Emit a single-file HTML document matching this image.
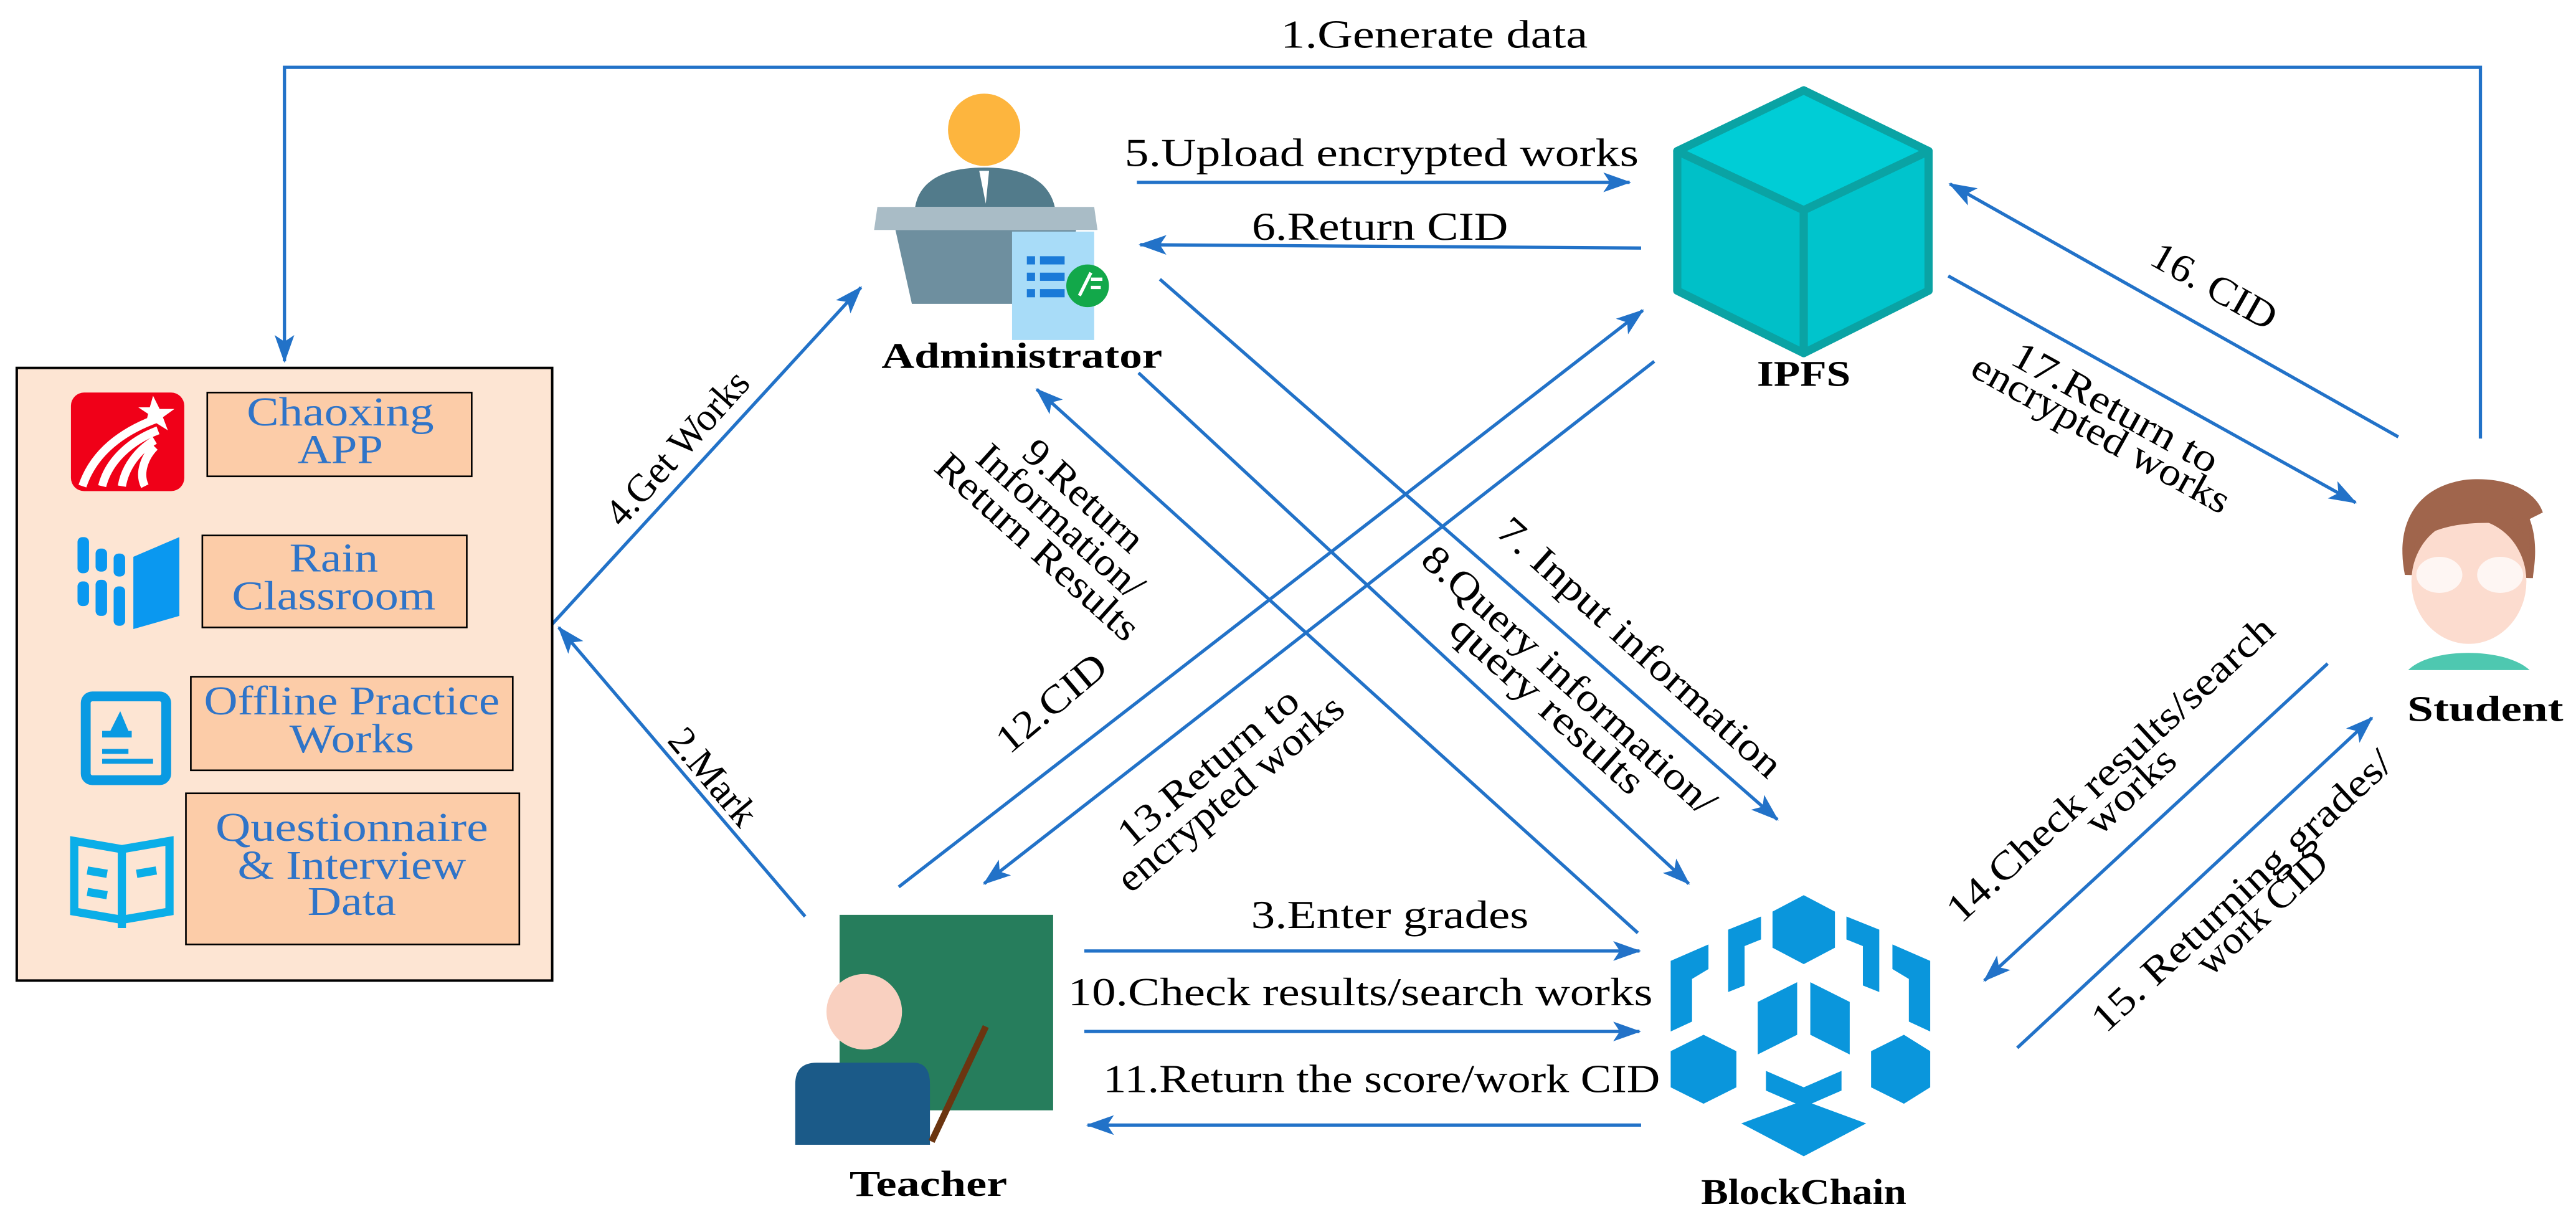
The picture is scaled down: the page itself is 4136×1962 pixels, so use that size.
<!DOCTYPE html>
<html><head><meta charset="utf-8"><style>
html,body{margin:0;padding:0;background:#fff;}
svg{display:block;}
svg text{font-family:"Liberation Serif","DejaVu Serif",serif !important;}
</style></head><body>
<svg width="4136" height="1962" viewBox="0 0 1568 744" xmlns="http://www.w3.org/2000/svg" font-family="Liberation Serif, serif">
<defs>
<marker id="ah" markerUnits="userSpaceOnUse" markerWidth="18" markerHeight="14" refX="16" refY="6" orient="auto">
<path d="M0,0 L17,6 L0,12 L4,6 Z" fill="#2272c8"/>
</marker>
</defs>
<rect width="1568" height="744" fill="#fff"/>
<g stroke="#2272c8" stroke-width="2" fill="none">
<polyline points="1510,267 1510,41 173,41 173,220" marker-end="url(#ah)"/>
<line x1="336" y1="380" x2="524" y2="175" marker-end="url(#ah)"/>
<line x1="490" y1="558" x2="340" y2="382" marker-end="url(#ah)"/>
<line x1="692" y1="111" x2="992" y2="111" marker-end="url(#ah)"/>
<line x1="999" y1="151" x2="694" y2="149" marker-end="url(#ah)"/>
<line x1="706" y1="170" x2="1082" y2="499" marker-end="url(#ah)"/>
<line x1="693" y1="227" x2="1028" y2="538" marker-end="url(#ah)"/>
<line x1="997" y1="568" x2="631" y2="237" marker-end="url(#ah)"/>
<line x1="547" y1="540" x2="1000" y2="189" marker-end="url(#ah)"/>
<line x1="1007" y1="220" x2="599" y2="538" marker-end="url(#ah)"/>
<line x1="660" y1="579" x2="998" y2="579" marker-end="url(#ah)"/>
<line x1="660" y1="628" x2="998" y2="628" marker-end="url(#ah)"/>
<line x1="999" y1="685" x2="662" y2="685" marker-end="url(#ah)"/>
<line x1="1460" y1="266" x2="1187" y2="112" marker-end="url(#ah)"/>
<line x1="1186" y1="168" x2="1434" y2="306" marker-end="url(#ah)"/>
<line x1="1417" y1="404" x2="1208" y2="597" marker-end="url(#ah)"/>
<line x1="1228" y1="638" x2="1444" y2="437" marker-end="url(#ah)"/>
</g>

<rect x="10" y="224" width="326" height="373" fill="#fde5d3" stroke="#000" stroke-width="1.5"/>
<g fill="#fccca8" stroke="#000" stroke-width="1">
<rect x="126" y="239" width="161" height="51"/>
<rect x="123" y="326" width="161" height="56"/>
<rect x="116" y="412" width="196" height="57"/>
<rect x="113" y="483" width="203" height="92"/>
</g>
<g fill="#2f74c8" font-size="25" text-anchor="middle" font-family="Liberation Serif, serif">
<text x="207" y="259" textLength="114" lengthAdjust="spacingAndGlyphs">Chaoxing</text>
<text x="207" y="282" textLength="52" lengthAdjust="spacingAndGlyphs">APP</text>
<text x="203" y="348" textLength="54" lengthAdjust="spacingAndGlyphs">Rain</text>
<text x="203" y="371" textLength="124" lengthAdjust="spacingAndGlyphs">Classroom</text>
<text x="214" y="435" textLength="180" lengthAdjust="spacingAndGlyphs">Offline Practice</text>
<text x="214" y="458" textLength="76" lengthAdjust="spacingAndGlyphs">Works</text>
<text x="214" y="512" textLength="166" lengthAdjust="spacingAndGlyphs">Questionnaire</text>
<text x="214" y="535" textLength="139" lengthAdjust="spacingAndGlyphs">&amp; Interview</text>
<text x="214" y="557" textLength="54" lengthAdjust="spacingAndGlyphs">Data</text>
</g>
<rect x="43" y="239" width="69" height="60" rx="8" fill="#f00018"/>
<g fill="none" stroke="#fff" stroke-width="5">
<path d="M50,296 C58,272 80,260 98,254"/>
<path d="M62,296 C66,280 80,268 96,262"/>
<path d="M74,296 C76,284 84,274 94,268"/>
<path d="M88,296 C84,288 88,278 94,272"/>
</g>
<polygon points="93,241 97,249 106,249 99,254 102,262 94,257 88,260 90,252 84,248 91,248" fill="#fff"/>
<g fill="#0a98f0">
<rect x="47" y="327" width="7" height="22" rx="3"/><rect x="47" y="354" width="7" height="15" rx="3"/>
<rect x="58" y="334" width="7" height="14" rx="3"/><rect x="58" y="353" width="7" height="22" rx="3"/>
<rect x="69" y="337" width="7" height="14" rx="3"/><rect x="69" y="357" width="7" height="24" rx="3"/>
<polygon points="81,339 109,327 109,375 81,383"/>
</g>
<rect x="52" y="424" width="49" height="51" rx="4" fill="none" stroke="#0a9ae2" stroke-width="6"/>
<polygon points="67,445 73,433 78,445" fill="#0a9ae2"/>
<rect x="62" y="445" width="18" height="4" fill="#0a9ae2"/>
<rect x="62" y="456" width="16" height="3" fill="#0a9ae2"/>
<rect x="62" y="462" width="31" height="3" fill="#0a9ae2"/>
<g fill="none" stroke="#0aaee8" stroke-width="5">
<path d="M45,512 L74,517 L103,512 L103,555 L74,560 L45,555 Z"/>
<line x1="74" y1="517" x2="74" y2="565"/>
<line x1="53" y1="530" x2="65" y2="532"/><line x1="53" y1="543" x2="65" y2="545"/>
<line x1="83" y1="532" x2="95" y2="530"/>
</g>

<circle cx="599" cy="79" r="22" fill="#fdb53e"/>
<path d="M557,126 C560,108 578,102 599,102 C620,102 638,108 642,126 Z" fill="#527b8b"/>
<polygon points="596,104 602,104 600,124" fill="#fff"/>
<polygon points="534,126 666,126 668,140 532,140" fill="#a9bcc6"/>
<polygon points="545,140 655,140 646,185 555,185" fill="#6e8f9f"/>
<rect x="616" y="141" width="50" height="66" fill="#a8dcf8"/>
<g fill="#1a7ad8"><rect x="625" y="156" width="5" height="5"/><rect x="633" y="156" width="15" height="5"/><rect x="625" y="166" width="5" height="5"/><rect x="633" y="166" width="15" height="5"/><rect x="625" y="176" width="5" height="5"/><rect x="633" y="176" width="15" height="5"/></g>
<circle cx="662" cy="174" r="13" fill="#12a84a"/>
<path d="M657,180 L664,166 M664,170 L671,170 M664,175 L670,175" stroke="#fff" stroke-width="2"/>

<g stroke="#0aa3a4" stroke-width="5" stroke-linejoin="round">
<polygon points="1098,55 1174,92 1098,128 1021,92" fill="#00cdd6"/>
<polygon points="1021,92 1098,128 1098,215 1021,177" fill="#00c0c8"/>
<polygon points="1174,92 1098,128 1098,215 1174,177" fill="#00c4cc"/>
</g>

<rect x="511" y="557" width="130" height="119" fill="#267d5c"/>
<circle cx="526" cy="616" r="23" fill="#f9d0c0"/>
<path d="M484,697 L484,660 Q484,647 497,647 L556,647 Q566,647 566,660 L566,697 Z" fill="#1b5a88"/>
<line x1="600" y1="625" x2="567" y2="695" stroke="#6b3510" stroke-width="4"/>

<g fill="#0a96dc">
<polygon points="1098,545 1117,555 1117,577 1098,587 1079,577 1079,555"/>
<polygon points="1052,566 1072,558 1072,572 1062,576 1062,600 1052,604"/>
<polygon points="1144,566 1124,558 1124,572 1134,576 1134,600 1144,604"/>
<polygon points="1017,585 1040,575 1040,590 1030,596 1030,622 1017,628"/>
<polygon points="1175,585 1152,575 1152,590 1162,596 1162,622 1175,628"/>
<polygon points="1070,610 1094,598 1094,630 1070,642"/>
<polygon points="1102,598 1126,610 1126,642 1102,630"/>
<polygon points="1017,640 1037,630 1057,640 1057,662 1037,672 1017,662"/>
<polygon points="1139,640 1159,630 1175,640 1175,662 1159,672 1139,662"/>
<polygon points="1075,652 1098,662 1121,652 1121,664 1098,674 1075,664"/>
<polygon points="1060,684 1098,670 1136,684 1098,704"/>
</g>

<path d="M1464,350 C1458,320 1470,296 1502,292 C1528,290 1544,300 1548,312 L1540,316 C1546,332 1542,348 1542,352 Z" fill="#a0654c"/>
<ellipse cx="1503" cy="354" rx="35" ry="38" fill="#fcdccf"/>
<path d="M1468,345 C1470,320 1480,308 1502,306 C1525,306 1538,318 1540,340 L1540,320 C1520,318 1490,315 1470,330 Z" fill="#a0654c"/>
<ellipse cx="1485" cy="350" rx="14" ry="11" fill="#fff" opacity="0.75"/>
<ellipse cx="1522" cy="350" rx="14" ry="11" fill="#fff" opacity="0.75"/>
<path d="M1466,408 C1480,394 1525,394 1540,408 Z" fill="#4ec8b0"/>

<g font-weight="bold" font-size="22" text-anchor="middle" fill="#000" font-family="Liberation Serif, serif">
<text x="622" y="224" textLength="171" lengthAdjust="spacingAndGlyphs">Administrator</text>
<text x="1098" y="235" textLength="57" lengthAdjust="spacingAndGlyphs">IPFS</text>
<text x="565" y="728" textLength="96" lengthAdjust="spacingAndGlyphs">Teacher</text>
<text x="1098" y="733" textLength="125" lengthAdjust="spacingAndGlyphs">BlockChain</text>
<text x="1513" y="439" textLength="95" lengthAdjust="spacingAndGlyphs">Student</text>
</g>

<g font-size="24" text-anchor="middle" fill="#000" font-family="Liberation Serif, serif">
<text x="873" y="29" textLength="187" lengthAdjust="spacingAndGlyphs">1.Generate data</text>
<text x="841" y="101" textLength="313" lengthAdjust="spacingAndGlyphs">5.Upload encrypted works</text>
<text x="840" y="146" textLength="156" lengthAdjust="spacingAndGlyphs">6.Return CID</text>
<text x="846" y="565" textLength="169" lengthAdjust="spacingAndGlyphs">3.Enter grades</text>
<text x="828" y="612" textLength="356" lengthAdjust="spacingAndGlyphs">10.Check results/search works</text>
<text x="841" y="665" textLength="339" lengthAdjust="spacingAndGlyphs">11.Return the score/work CID</text>
<g transform="translate(418,278) rotate(-48)"><text x="0" y="0" textLength="118" lengthAdjust="spacingAndGlyphs">4.Get Works</text></g>
<g transform="translate(428,478) rotate(50)"><text x="0" y="0" textLength="70" lengthAdjust="spacingAndGlyphs">2.Mark</text></g>
<g transform="translate(645,318) rotate(42)"><text x="0" y="-14" textLength="90" lengthAdjust="spacingAndGlyphs">9.Return</text><text x="0" y="7" textLength="128" lengthAdjust="spacingAndGlyphs">Information/</text><text x="0" y="28" textLength="158" lengthAdjust="spacingAndGlyphs">Return Results</text></g>
<g transform="translate(645,434) rotate(-40)"><text x="0" y="0" textLength="80" lengthAdjust="spacingAndGlyphs">12.CID</text></g>
<g transform="translate(743,476) rotate(-40)"><text x="0" y="-4" textLength="136" lengthAdjust="spacingAndGlyphs">13.Return to</text><text x="0" y="17" textLength="172" lengthAdjust="spacingAndGlyphs">encrypted works</text></g>
<g transform="translate(993,400) rotate(42)"><text x="0" y="0" textLength="224" lengthAdjust="spacingAndGlyphs">7. Input information</text></g>
<g transform="translate(950,420) rotate(42)"><text x="0" y="0" textLength="232" lengthAdjust="spacingAndGlyphs">8.Query information/</text><text x="0" y="20" textLength="150" lengthAdjust="spacingAndGlyphs">query results</text></g>
<g transform="translate(1344,181) rotate(29.5)"><text x="0" y="0" textLength="84" lengthAdjust="spacingAndGlyphs">16. CID</text></g>
<g transform="translate(1284,255) rotate(29)"><text x="0" y="0" textLength="140" lengthAdjust="spacingAndGlyphs">17.Return to</text><text x="0" y="18" textLength="176" lengthAdjust="spacingAndGlyphs">encrypted works</text></g>
<g transform="translate(1290,474) rotate(-42.7)"><text x="0" y="0" textLength="262" lengthAdjust="spacingAndGlyphs">14.Check results/search</text><text x="0" y="18" textLength="66" lengthAdjust="spacingAndGlyphs">works</text></g>
<g transform="translate(1370,548) rotate(-42.8)"><text x="0" y="0" textLength="240" lengthAdjust="spacingAndGlyphs">15. Returning grades/</text><text x="0" y="18" textLength="100" lengthAdjust="spacingAndGlyphs">work CID</text></g>
</g>
</svg>
</body></html>
